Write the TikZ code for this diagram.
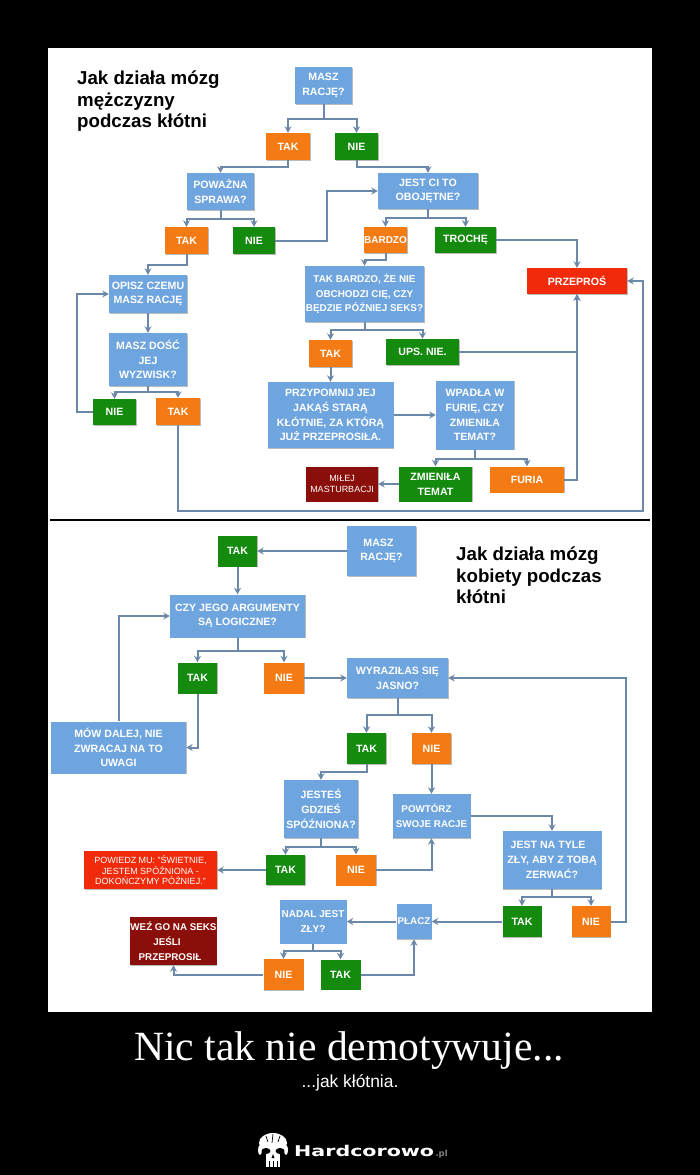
\documentclass[tikz,border=0pt]{standalone}
\usepackage{fontspec}
\setmainfont{Liberation Sans}
\newfontfamily\serifcaption{Liberation Serif}
\newfontfamily\logofont{DejaVu Sans}
\usepackage{xcolor}
\usetikzlibrary{arrows.meta, positioning, shadows}
\definecolor{boxblue}{HTML}{6FA5DF}
\definecolor{boxorange}{HTML}{F47B14}
\definecolor{boxgreen}{HTML}{148A0F}
\definecolor{boxred}{HTML}{F02A0A}
\definecolor{boxdark}{HTML}{8A0F0A}
\definecolor{linkblue}{HTML}{6C88A8}
\tikzset{
    plate/.style={rectangle, text centered, align=center, inner sep=0pt, text=white, font=\bfseries\fontsize{10.6}{14.7}\selectfont, drop shadow={shadow xshift=0.7pt, shadow yshift=-0.9pt, fill=black!60, opacity=0.45}},
    boxsize/.style 2 args={minimum width=#1pt, minimum height=#2pt},
    question/.style={plate, fill=boxblue},
    warm/.style={plate, fill=boxorange},
    calm/.style={plate, fill=boxgreen},
    alarm/.style={plate, fill=boxred},
    finale/.style={plate, fill=boxdark},
    tight/.style={font=\bfseries\fontsize{#1}{14.7}\selectfont},
    fineprint/.style={font=\fontsize{9}{10.7}\selectfont},
    heading/.style={inner sep=0pt, align=left, text=black, font=\bfseries\fontsize{18.7}{21.3}\selectfont},
    arrow/.style={draw=linkblue, line width=2pt, -{Stealth[length=6.5pt,width=7pt]}}
}

\begin{document}
\begin{tikzpicture}[x=1pt, y=-1pt, node distance=40pt]
    \useasboundingbox (0,0) rectangle (700,1175);
    \fill [black] (0,0) rectangle (700,1175);
    \fill [white] (48,48) rectangle (652,1012);
    \fill [black] (50,518.6) rectangle (650,521);

    \node (titlea) [heading, anchor=north west] at (77,71) {Jak działa mózg\\mężczyzny\\podczas kłótni};
    \node (masz) [question, boxsize={57}{37}] at (323.5,85.5) {MASZ\\RACJĘ?};
    \node (taka) [warm, boxsize={44}{27}, below of=masz, node distance=61pt, xshift=-35.5pt] {TAK};
    \node (niea) [calm, boxsize={43}{27}, right of=taka, node distance=68.5pt] {NIE};
    \node (powazna) [question, boxsize={67}{37}, below of=taka, node distance=45pt, xshift=-67.5pt] {POWAŻNA\\SPRAWA?};
    \node (jest) [question, boxsize={100}{36}, below of=niea, node distance=44.5pt, xshift=71.5pt] {JEST CI TO\\OBOJĘTNE?};
    \node (takb) [warm, boxsize={43}{27}, below of=powazna, node distance=49pt, xshift=-34pt] {TAK};
    \node (nieb) [calm, boxsize={42}{27}, right of=takb, node distance=67.5pt] {NIE};
    \node (bardzo) [warm, tight=10, boxsize={43}{26}, below of=jest, node distance=49pt, xshift=-42.5pt] {BARDZO};
    \node (troche) [calm, boxsize={61}{26}, right of=bardzo, node distance=80pt] {TROCHĘ};
    \node (przepros) [alarm, boxsize={100}{26}, below of=troche, node distance=41pt, xshift=111.5pt] {PRZEPROŚ};
    \node (obchodzi) [question, tight=9.9, boxsize={119}{56}, below of=bardzo, node distance=54pt, xshift=-21pt] {TAK BARDZO, ŻE NIE\\OBCHODZI CIĘ, CZY\\BĘDZIE PÓŹNIEJ SEKS?};
    \node (takc) [warm, boxsize={43}{27}, below of=obchodzi, node distance=59.5pt, xshift=-34pt] {TAK};
    \node (ups) [calm, boxsize={73}{26}, right of=takc, node distance=92pt, yshift=1.5pt] {UPS. NIE.};
    \node (przypomnij) [question, boxsize={126}{66}, below of=takc, node distance=61.5pt] {PRZYPOMNIJ JEJ\\JAKĄŚ STARĄ\\KŁÓTNIE, ZA KTÓRĄ\\JUŻ PRZEPROSIŁA.};
    \node (wpadla) [question, boxsize={78}{69}, right of=przypomnij, node distance=144.5pt] {WPADŁA W\\FURIĘ, CZY\\ZMIENIŁA\\TEMAT?};
    \node (zmienila) [calm, boxsize={73}{35}, below of=wpadla, node distance=69pt, xshift=-39.5pt] {ZMIENIŁA\\TEMAT};
    \node (furia) [warm, boxsize={74}{26}, right of=zmienila, node distance=91.5pt, yshift=4.5pt] {FURIA};
    \node (milej) [finale, fineprint, boxsize={72}{35}, left of=zmienila, node distance=93.5pt] {MIŁEJ\\MASTURBACJI};
    \node (opisz) [question, boxsize={78}{38}, below of=takb, node distance=53.5pt, xshift=-38.5pt] {OPISZ CZEMU\\MASZ RACJĘ};
    \node (dosc) [question, boxsize={78}{53}, below of=opisz, node distance=65.5pt] {MASZ DOŚĆ\\JEJ\\WYZWISK?};
    \node (niec) [calm, boxsize={43}{26}, below of=dosc, node distance=52.5pt, xshift=-33.5pt] {NIE};
    \node (takd) [warm, boxsize={44}{27}, right of=niec, node distance=63.5pt, yshift=0.5pt] {TAK};

    \coordinate (backa) at (77,350);
    \coordinate (loopa) at (643,511);
    \draw [arrow] (masz.south) -- ++(0,15) -| (taka.north);
    \draw [arrow] (masz.south) -- ++(0,15) -| (niea.north);
    \draw [arrow] (taka.south) -- ++(0,7) -| (powazna.north);
    \draw [arrow] (niea.south) -- ++(0,7) -| (jest.north);
    \draw [arrow] (powazna.south) -- ++(0,9) -| (takb.north);
    \draw [arrow] (powazna.south) -- ++(0,9) -| (nieb.north);
    \draw [arrow] (nieb.east) -- ++(52,0) |- (jest.west);
    \draw [arrow] (jest.south) -- ++(0,9) -| (bardzo.north);
    \draw [arrow] (jest.south) -- ++(0,9) -| (troche.north);
    \draw [arrow] (troche.east) -| (przepros.north);
    \draw [arrow] (bardzo.south) -- ++(0,7) -| (obchodzi.north);
    \draw [arrow] (obchodzi.south) -- ++(0,8) -| (takc.north);
    \draw [arrow] (obchodzi.south) -- ++(0,8) -| (ups.north);
    \draw [arrow] (ups.east) -| (przepros.south);
    \draw [arrow] (takc.south) -- (przypomnij.north);
    \draw [arrow] (przypomnij.east) -- (wpadla.west);
    \draw [arrow] (wpadla.south) -- ++(0,9) -| (zmienila.north);
    \draw [arrow] (wpadla.south) -- ++(0,9) -| (furia.north);
    \draw [arrow] (zmienila.west) -- (milej.east);
    \draw [arrow] (furia.east) -| (przepros.south);
    \draw [arrow] (takb.south) -- ++(0,11) -| (opisz.north);
    \draw [arrow] (opisz.south) -- (dosc.north);
    \draw [arrow] (dosc.south) -- ++(0,6) -| (niec.north);
    \draw [arrow] (dosc.south) -- ++(0,6) -| (takd.north);
    \draw [arrow] (niec.west) -| (backa) |- (opisz.west);
    \draw [arrow] (takd.south) |- (loopa) |- (przepros.east);

    \node (titleb) [heading, anchor=north west] at (456,547) {Jak działa mózg\\kobiety podczas\\kłótni};
    \node (maszb) [question, boxsize={69}{50}] at (381.5,551) {MASZ\kern6pt\\RACJĘ?};
    \node (take) [calm, boxsize={39}{31}, left of=maszb, node distance=144pt] {TAK};
    \node (logiczne) [question, boxsize={135}{43}, below of=take, node distance=65pt] {CZY JEGO ARGUMENTY\\SĄ LOGICZNE?};
    \node (takf) [calm, boxsize={39}{31}, below of=logiczne, node distance=62pt, xshift=-40pt] {TAK};
    \node (nied) [warm, boxsize={40}{31}, right of=takf, node distance=86.5pt] {NIE};
    \node (wyrazilas) [question, boxsize={101}{40}, right of=nied, node distance=113.5pt] {WYRAZIŁAS SIĘ\\JASNO?};
    \node (mow) [question, boxsize={135}{52}, below of=takf, node distance=69.5pt, xshift=-79pt] {MÓW DALEJ, NIE\\ZWRACAJ NA TO\\UWAGI};
    \node (takg) [calm, boxsize={39}{31}, below of=wyrazilas, node distance=70.5pt, xshift=-31pt] {TAK};
    \node (niee) [warm, boxsize={39}{31}, right of=takg, node distance=65pt] {NIE};
    \node (jestes) [question, boxsize={74}{58}, below of=takg, node distance=60.5pt, xshift=-45.5pt] {JESTEŚ\\GDZIEŚ\\SPÓŹNIONA?};
    \node (powtorz) [question, tight=9.8, boxsize={78}{44}, below of=niee, node distance=67.5pt] {POWTÓRZ\kern10pt\\SWOJE RACJE};
    \node (takh) [calm, boxsize={39}{30}, below of=jestes, node distance=61pt, xshift=-35.5pt] {TAK};
    \node (nief) [warm, boxsize={40}{31}, right of=takh, node distance=70.5pt] {NIE};
    \node (powiedz) [alarm, fineprint, boxsize={133}{38}, left of=takh, node distance=135pt] {POWIEDZ MU: "ŚWIETNIE,\\JESTEM SPÓŹNIONA -\\DOKOŃCZYMY PÓŹNIEJ."};
    \node (zerwac) [question, boxsize={99}{58}, below of=powtorz, node distance=44pt, xshift=120.5pt] {JEST NA TYLE\kern8pt\\ZŁY, ABY Z TOBĄ\\ZERWAĆ?};
    \node (takj) [calm, boxsize={39}{31}, below of=zerwac, node distance=61.5pt, xshift=-30pt] {TAK};
    \node (nieg) [warm, boxsize={39}{31}, right of=takj, node distance=69pt] {NIE};
    \node (placz) [question, tight=9.8, boxsize={35}{35}, left of=takj, node distance=108pt] {PŁACZ};
    \node (nadal) [question, tight=10, boxsize={67}{44}, left of=placz, node distance=101pt] {NADAL JEST\\ZŁY?};
    \node (nieh) [warm, boxsize={40}{31}, below of=nadal, node distance=53pt, xshift=-29.5pt] {NIE};
    \node (takk) [calm, boxsize={40}{30}, right of=nieh, node distance=57pt] {TAK};
    \node (seks) [finale, tight=9.8, boxsize={86}{48}, left of=nieh, node distance=110pt, yshift=33.5pt] {WEŹ GO NA SEKS\\JEŚLI\kern13pt\\PRZEPROSIŁ\kern7pt};

    \coordinate (loopb) at (626,800);
    \draw [arrow] (maszb.west) -- (take.east);
    \draw [arrow] (take.south) -- (logiczne.north);
    \draw [arrow] (logiczne.south) -- ++(0,13) -| (takf.north);
    \draw [arrow] (logiczne.south) -- ++(0,13) -| (nied.north);
    \draw [arrow] (nied.east) -- (wyrazilas.west);
    \draw [arrow] (takf.south) |- (mow.east);
    \draw [arrow] (mow.north) |- (logiczne.west);
    \draw [arrow] (wyrazilas.south) -- ++(0,17) -| (takg.north);
    \draw [arrow] (wyrazilas.south) -- ++(0,17) -| (niee.north);
    \draw [arrow] (takg.south) -- ++(0,8) -| (jestes.north);
    \draw [arrow] (niee.south) -- (powtorz.north);
    \draw [arrow] (jestes.south) -- ++(0,9) -| (takh.north);
    \draw [arrow] (jestes.south) -- ++(0,9) -| (nief.north);
    \draw [arrow] (takh.west) -- (powiedz.east);
    \draw [arrow] (nief.east) -| (powtorz.south);
    \draw [arrow] (powtorz.east) -| (zerwac.north);
    \draw [arrow] (zerwac.south) -- ++(0,8) -| (takj.north);
    \draw [arrow] (zerwac.south) -- ++(0,8) -| (nieg.north);
    \draw [arrow] (nieg.east) -| (loopb) |- (wyrazilas.east);
    \draw [arrow] (takj.west) -- (placz.east);
    \draw [arrow] (placz.west) -- (nadal.east);
    \draw [arrow] (nadal.south) -- ++(0,7) -| (nieh.north);
    \draw [arrow] (nadal.south) -- ++(0,7) -| (takk.north);
    \draw [arrow] (takk.east) -| (placz.south);
    \draw [arrow] (nieh.west) -| (seks.south);

    \node (caption) [anchor=base, text=white, inner sep=0pt, font=\serifcaption\fontsize{41.6}{48}\selectfont] at (349,1060) {Nic tak nie demotywuje...};
    \node (subcaption) [anchor=base, text=white, inner sep=0pt, font=\fontsize{17.4}{20}\selectfont] at (350,1087) {...jak kłótnia.};
    \node (logotext) [anchor=base west, text=white, inner sep=0pt, font=\logofont\bfseries\fontsize{20.6}{22}\selectfont] at (294,1156) {\scalebox{1}[0.72]{Hardcorowo}};
    \node (logopl) [right=1pt of logotext.base east, anchor=base west, text=gray, inner sep=0pt, font=\logofont\bfseries\fontsize{8.5}{9}\selectfont] {.pl};

    \fill [white] (273,1143) ellipse [x radius=14, y radius=10];
    \fill [white] (266,1150) rectangle (280,1167);
    \fill [white] (260,1150) ellipse [x radius=2, y radius=5];
    \fill [white] (286,1150) ellipse [x radius=2, y radius=5];
    \fill [black] (266,1151) ellipse [x radius=4.5, y radius=3];
    \fill [black] (280,1151) ellipse [x radius=4.5, y radius=3];
    \fill [black] (271.5,1158) -- (274.5,1158) -- (273,1154) -- cycle;
    \draw [black, line width=0.8pt] (269,1161) -- (269,1167) (273,1161) -- (273,1167) (277,1161) -- (277,1167);
    \draw [black, line width=0.7pt] (273,1134) -- (272,1143) (266,1136) -- (268,1142) (280,1136) -- (278,1142);
\end{tikzpicture}
\end{document}
